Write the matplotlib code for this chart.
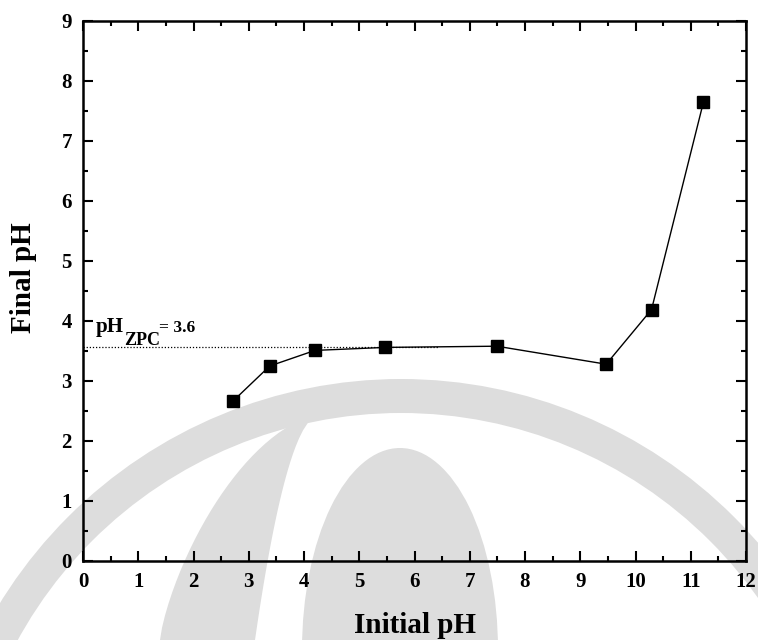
import matplotlib
matplotlib.use("Agg")
import numpy as np
import matplotlib.pyplot as plt
from matplotlib.patches import Ellipse, Polygon, Wedge
from matplotlib.ticker import MultipleLocator

plt.rcParams['font.family'] = ['Liberation Serif', 'DejaVu Serif']
plt.rcParams['font.weight'] = 'bold'

# point of zero charge measurements
initial_ph = [2.72, 3.38, 4.20, 5.47, 7.49, 9.47, 10.29, 11.23]
final_ph = [2.67, 3.25, 3.51, 3.56, 3.58, 3.28, 4.19, 7.65]
ph_zpc = 3.56
zpc_line_end = 6.45

fig = plt.figure(figsize=(7.58, 6.4), dpi=100)

# faint background logo, drawn in pixel units (origin bottom-left)
bg = fig.add_axes([0, 0, 1, 1], zorder=0)
bg.set_xlim(0, 758)
bg.set_ylim(0, 640)
bg.axis('off')
wm = '#dddddd'
bg.add_patch(Wedge((401, 640 - 850), 471, 0, 180, width=34, color=wm, lw=0))
t = np.linspace(0, 1, 30)
outer = np.column_stack([160 + 160 * t ** 1.3, 225 * (1 - (1 - t) ** 1.6)])
inner = np.column_stack([320 - 65 * np.sqrt(t), 225 * (1 - t)])
bg.add_patch(Polygon(np.vstack([outer, inner]), closed=True, color=wm, lw=0))
bg.add_patch(Ellipse((400, 640 - 650), 196, 404, color=wm, lw=0))

ax = fig.add_axes([83 / 758, 1 - 561 / 640, 663 / 758, 540 / 640], zorder=1)
ax.patch.set_alpha(0)

ax.plot([0, zpc_line_end], [ph_zpc, ph_zpc], ls=(0, (1, 1.5)), color='black', lw=0.9)
ax.plot(initial_ph, final_ph, color='black', lw=1.0, marker='s', ms=8,
        markerfacecolor='black', markeredgecolor='black')

# label with a full-size subscript
ax.text(0.23, 3.82, 'pH', fontsize=15, fontweight='bold')
ax.text(0.74, 3.60, 'ZPC', fontsize=13, fontweight='bold')
ax.text(1.38, 3.82, '= 3.6', fontsize=12.5, fontweight='bold')

ax.set_xlim(0, 12)
ax.set_ylim(0, 9)
ax.xaxis.set_major_locator(MultipleLocator(1))
ax.xaxis.set_minor_locator(MultipleLocator(0.5))
ax.yaxis.set_major_locator(MultipleLocator(1))
ax.yaxis.set_minor_locator(MultipleLocator(0.5))
ax.tick_params(which='both', direction='in', top=True, right=True, width=1.5)
ax.tick_params(which='major', length=7, labelsize=15, pad=8)
ax.tick_params(which='minor', length=3.6)
for lab in ax.get_xticklabels() + ax.get_yticklabels():
    lab.set_fontweight('bold')
for sp in ax.spines.values():
    sp.set_linewidth(1.8)

ax.set_xlabel('Initial pH', fontsize=21, fontweight='bold')
ax.set_ylabel('Final pH', fontsize=21, fontweight='bold')
ax.xaxis.set_label_coords(0.5, -0.095)
ax.yaxis.set_label_coords(-0.069, 0.525)

fig.savefig('out.png', dpi=100)
